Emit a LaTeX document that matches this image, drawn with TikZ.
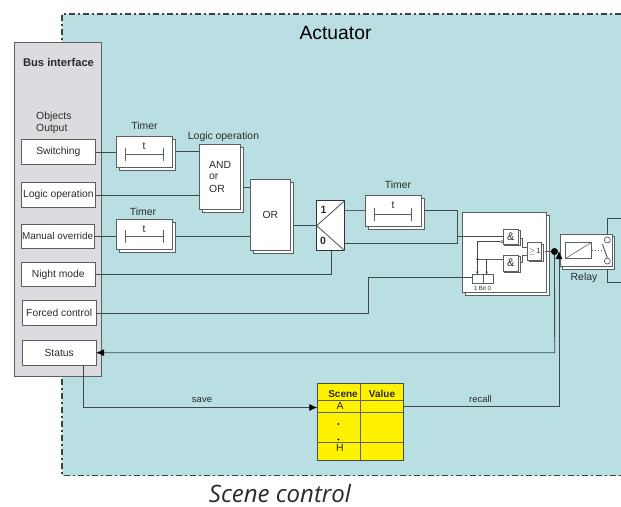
\documentclass[tikz,border=0pt]{standalone}
\usepackage{fontspec}
\setmainfont{Liberation Sans}
\newfontfamily\capfont{Open Sans}
\usetikzlibrary{arrows.meta,shadows,calc}
\definecolor{tealbg}{HTML}{B9DFE2}
\definecolor{busbg}{HTML}{DCDCE0}
\definecolor{edge}{HTML}{5A5F60}
\definecolor{wire}{HTML}{3E4A4C}
\definecolor{ink}{HTML}{2A2A2A}
\newcommand{\bx}[7][]{%
  \pgfmathsetmacro{\bw}{#5-#3}\pgfmathsetmacro{\bh}{#6-#4}%
  \pgfmathsetmacro{\bcx}{(#3+#5)/2}\pgfmathsetmacro{\bcy}{(#4+#6)/2}%
  \node[plainbox,minimum width=\bw pt,minimum height=\bh pt,#1] (#2) at (\bcx,\bcy) {#7};}
\tikzset{
  plainbox/.style={draw=edge,fill=white,line width=0.8pt,inner sep=0pt,outer sep=0pt,text=ink,font=\fontsize{10.3}{12}\selectfont,align=center},
  shadowed/.style={copy shadow={shadow xshift=3pt,shadow yshift=-3pt,draw=edge,fill=white,line width=1pt}},
  lbl/.style={inner sep=0pt,text=ink,font=\fontsize{10.4}{12}\selectfont},
  wireline/.style={draw=wire,line width=0.85pt},
  thin gray/.style={draw=edge,line width=0.9pt},
  tip/.style={-{Latex[length=8pt,width=7pt,color=black]}}
}
\begin{document}
\begin{tikzpicture}[x=1pt,y=-1pt]
\useasboundingbox (0,0) rectangle (621,506);
\fill[tealbg] (62,14) rectangle (621,475.5);
\draw[black!75,line width=1.1pt,dash pattern=on 6pt off 3pt on 2pt off 3pt] (621,14) -- (62,14) -- (62,475.5) -- (621,475.5);
\node[inner sep=0pt,text=black,font=\fontsize{19.3}{22}\selectfont] (title) at (335.5,33) {Actuator};
\bx[fill=busbg,draw=edge]{bus}{14}{42.5}{101}{376.7}{}
\node[lbl,font=\fontsize{11.2}{13}\selectfont\bfseries] (bustitle) at (58.5,62) {Bus interface};
\node[lbl,anchor=west] (objs) at (36,117) {Objects};
\node[lbl,anchor=west] (outp) at (36,128.5) {Output};
% inputs
\bx{sw}{21.3}{139.7}{95.3}{164.3}{Switching}
\bx{lo}{21.3}{182.7}{95.3}{207.3}{Logic operation}
\bx[font=\fontsize{9.9}{12}\selectfont]{mo}{21}{224}{94.3}{248.3}{Manual override}
\bx{nm}{21.3}{262.7}{95.3}{286.7}{Night mode}
\bx{fc}{22.3}{300.7}{96}{325.7}{Forced control}
\bx{st}{22.3}{340.3}{96}{365.7}{Status}
% timers
\bx[shadowed]{t1}{116}{136.3}{172.7}{167.3}{}
\bx[shadowed]{t2}{116}{219}{172.7}{249}{}
\bx[shadowed]{t3}{365.7}{195.7}{421.7}{226.7}{}
\node[lbl] (t1l) at (144.5,126) {Timer};
\node[lbl] (t2l) at (143,212) {Timer};
\node[lbl] (t3l) at (398,185) {Timer};
\node[lbl] (t1t) at (144,146) {t};
\node[lbl] (t2t) at (144,229) {t};
\node[lbl] (t3t) at (393,205) {t};
\draw[thin gray,{Bar[width=13pt,length=0pt]}-{Bar[width=13pt,length=0pt]}] (124.5,154.5) -- (163.5,154.5);
\draw[thin gray,{Bar[width=13pt,length=0pt]}-{Bar[width=13pt,length=0pt]}] (124.5,236) -- (163.5,236);
\draw[thin gray,{Bar[width=13pt,length=0pt]}-{Bar[width=13pt,length=0pt]}] (374,214) -- (412,214);
% logic
\bx[shadowed]{andor}{199.3}{144.3}{240.7}{209.7}{}
\node[lbl] (lol) at (223.5,136.5) {Logic operation};
\node[lbl,anchor=west] (a1) at (209,165) {AND};
\node[lbl,anchor=west] (a2) at (209,177) {or};
\node[lbl,anchor=west] (a3) at (209,188.5) {OR};
\bx[shadowed]{or}{250}{179.7}{290.7}{250}{OR}
% changeover
\bx[draw=black!80]{chg}{316.7}{200.7}{344.7}{250.7}{}
\node[lbl,font=\fontsize{10.5}{12}\selectfont\bfseries] (c1) at (323.5,210) {1};
\node[lbl,font=\fontsize{10.5}{12}\selectfont\bfseries] (c0) at (323,241) {0};
\draw[thin gray] (chg.north east) -- (chg.west) -- (chg.south east);
% gate block
\bx[shadowed]{blk}{462}{212}{546}{292}{}
\bx[copy shadow={shadow xshift=1.5pt,shadow yshift=-1.5pt,draw=edge,fill=white}]{and1}{503}{229}{518.7}{244}{\fontsize{11}{12}\selectfont\&}
\bx[copy shadow={shadow xshift=1.5pt,shadow yshift=-1.5pt,draw=edge,fill=white}]{and2}{503}{255}{518.7}{271}{\fontsize{11}{12}\selectfont\&}
\bx[copy shadow={shadow xshift=1.5pt,shadow yshift=-1.5pt,draw=edge,fill=white}]{or1}{527.7}{242.7}{541.7}{260}{\fontsize{7.5}{8}\selectfont$\geq$\,1}
\bx{bitl}{472.7}{274.3}{483}{283.3}{}
\bx{bitr}{483}{274.3}{493.3}{283.3}{}
\node[lbl,font=\fontsize{6}{7}\selectfont] (bit) at (482.5,288) {1 Bit 0};
\coordinate (j1) at (477.3,259);
\node[circle,draw=edge,fill=white,inner sep=0pt,minimum size=2.6pt,line width=0.5pt] (bub) at (501.7,241.7) {};
\draw[wireline] (bub.west) -- (j1 |- bub) -- (j1) -- (j1 |- bitl.north);
\draw[thin gray] (j1) -- (and2.west |- j1);
\draw[wireline] (486.7,259) -- (486.7,274.3);
\fill[wire] (j1) circle (1.2pt);
\fill[wire] (477.3,274.3) -- (476,271.5) -- (478.6,271.5) -- cycle;
\fill[wire] (486.7,274.3) -- (485.4,271.5) -- (488,271.5) -- cycle;
\coordinate (a1e) at (520,238.3);
\coordinate (a2e) at (520,262.7);
\draw[thin gray] (a1e) -- (522.5,238.3) -- (522.5,247) -- (or1.west |- 0,247);
\draw[thin gray] (a2e) -- (522.5,262.7) -- (522.5,255) -- (or1.west |- 0,255);
% relay
\coordinate (r1) at (621,218);
\coordinate (r2) at (621,282);
\draw[wireline] (r1) -- (607.3,218) -- (607.3,282) -- (r2);
\bx[copy shadow={shadow xshift=2.5pt,shadow yshift=-2.5pt,draw=edge,fill=white}]{rel}{560}{234.3}{612.3}{266.7}{}
\bx{coil}{565.7}{242.3}{591.7}{258.3}{}
\draw[thin gray,line width=0.6pt] (coil.south west) -- (coil.north east);
\node[circle,draw=edge,fill=white,inner sep=0pt,minimum size=6pt,line width=0.7pt] (c1c) at (607.3,240) {};
\node[circle,draw=edge,fill=white,inner sep=0pt,minimum size=6pt,line width=0.7pt] (c2c) at (607.3,261) {};
\draw[wireline] (602.5,244.3) -- (c2c.north);
\draw[thin gray,dash pattern=on 1.5pt off 1.5pt] (coil.east) -- (603.5,250.3);
\node[lbl] (rell) at (584,278) {Relay};
% table
\bx[fill=yellow,draw=edge!80!black]{tb}{317.3}{383.3}{403.3}{460}{}
\draw[thin gray] (360.7,383.3) -- (360.7,460);
\draw[thin gray] (317.3,400.7) -- (403.3,400.7);
\draw[thin gray] (317.3,412.3) -- (403.3,412.3);
\draw[thin gray] (317.3,442.3) -- (403.3,442.3);
\node[lbl,font=\fontsize{10}{11}\selectfont\bfseries] (ts) at (343,394) {Scene};
\node[lbl,font=\fontsize{10}{11}\selectfont\bfseries] (tv) at (382,394) {Value};
\node[lbl] (ta) at (340,406) {A};
\node[lbl] (th) at (340,448) {H};
\fill[black] (338.3,424) circle (1pt) (338.3,439.5) circle (1pt);
% wires
\draw[wireline] (sw.east) -- (t1.west |- sw.east);
\draw[wireline] (175.7,151) -- (andor.west |- 0,151);
\draw[wireline] (lo.east) -- (andor.west |- lo.east);
\draw[wireline] (mo.east) -- (t2.west |- mo.east);
\draw[wireline] (175.7,236) -- (or.west |- 0,236);
\draw[wireline] (243.7,187) -- (or.west |- 0,187);
\draw[wireline] (293.7,225.7) -- (chg.west);
\draw[wireline] (nm.east) -- (331.7,274.7) -- (331.7,250.7);
\draw[thin gray] (chg.east |- 0,210.7) -- (t3.west |- 0,210.7);
\coordinate (v) at (457,210);
\draw[wireline] (424.7,210) -- (v) -- (457,243.5);
\draw[wireline] (344.7,243.5) -- (457,243.5);
\draw[wireline] (457,236.3) -- (and1.west |- 0,236.3);
\draw[wireline] (fc.east) -- (368,313.2) -- (368,277.5) -- (bitl.west |- 0,277.5);
\node[circle,fill=black,inner sep=0pt,minimum width=6pt,minimum height=7pt] (dot) at (554.5,251.5) {};
\draw[thin gray] (544.7,251.5) -- (dot.west);
\draw[wireline,tip] (dot.south) -- (554.7,352.7) -- (st.east |- 0,352.7);
\draw[wireline,tip] (st.south -| 83,0) -- (83,407.5) -- (tb.west |- 0,407.5);
\draw[wireline,tip] (tb.east |- 0,406.7) -- (559,406.7) -- (559,251);
\node[lbl,font=\fontsize{9.5}{11}\selectfont] (save) at (202,399.5) {save};
\node[lbl,font=\fontsize{9.5}{11}\selectfont] (recall) at (480.5,399.5) {recall};
\node[inner sep=0pt,anchor=base,text=ink,font=\capfont\itshape\fontsize{24}{26}\selectfont] (cap) at (280,502) {Scene control};
\end{tikzpicture}
\end{document}
